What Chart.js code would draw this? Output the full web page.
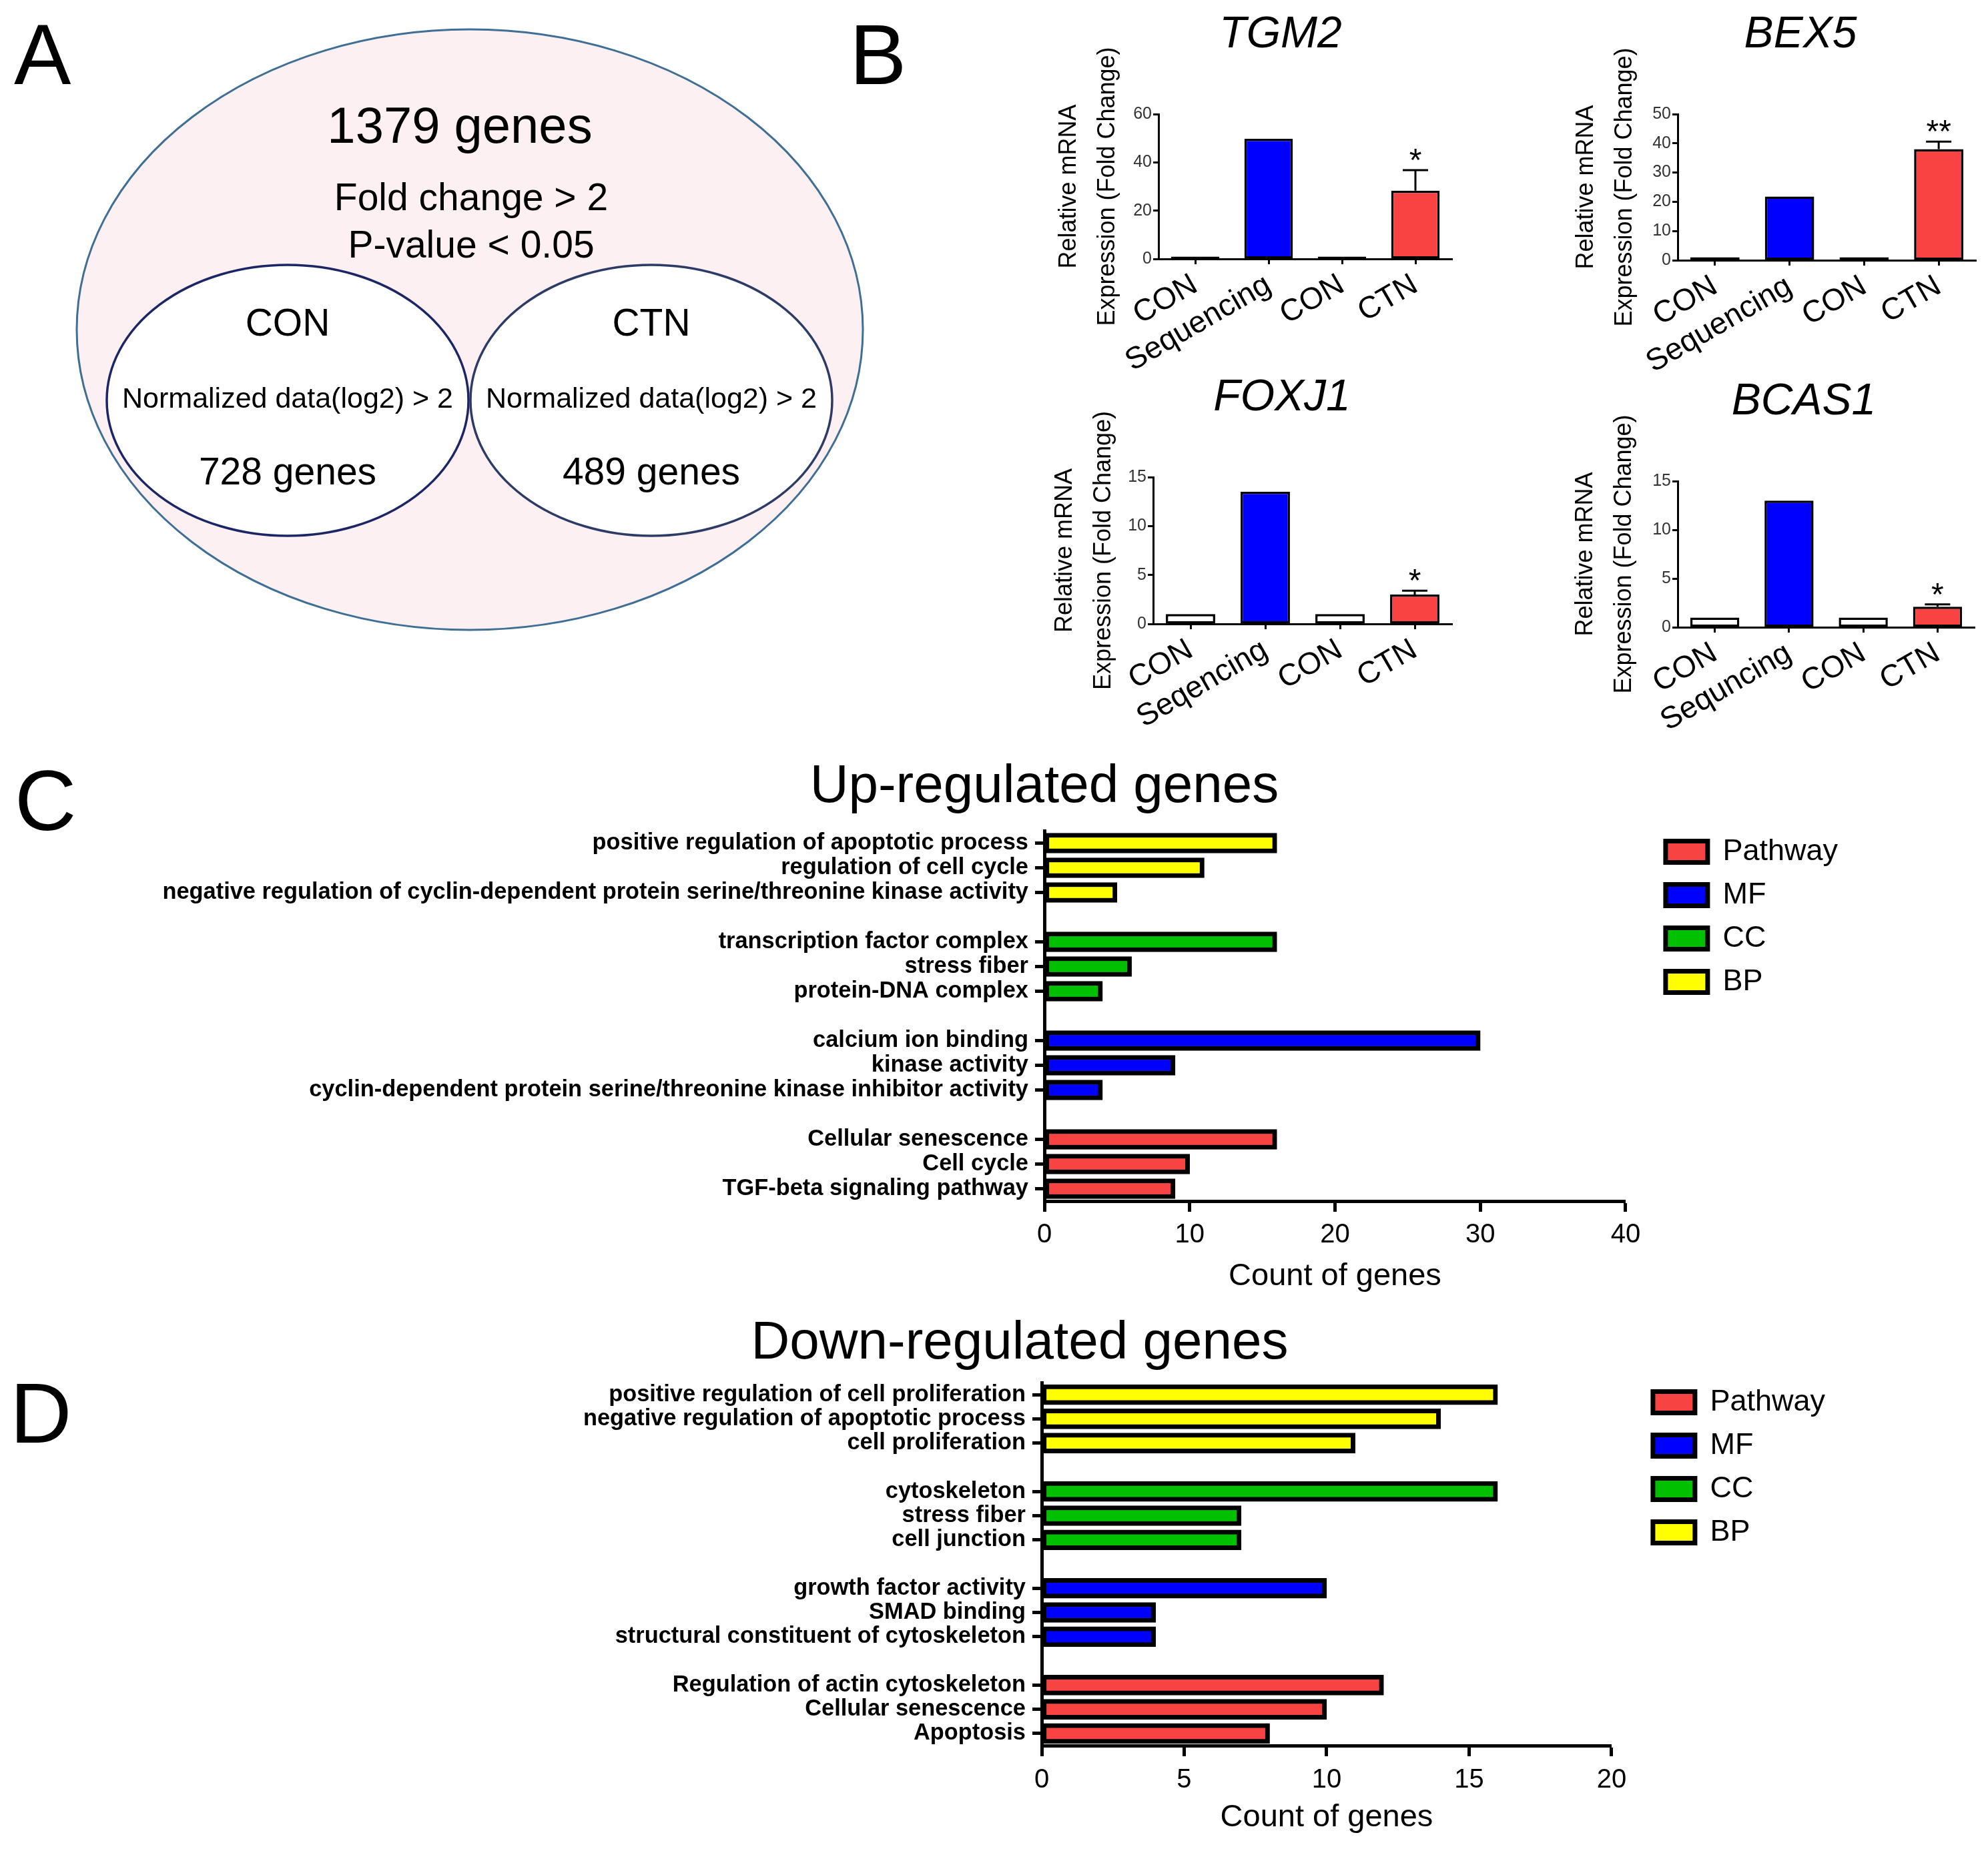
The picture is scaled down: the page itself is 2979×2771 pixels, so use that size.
<!DOCTYPE html>
<html>
<head>
<meta charset="utf-8">
<title>DEG figure</title>
<script src="https://cdn.jsdelivr.net/npm/chart.js@4.4.1/dist/chart.umd.min.js"></script>
<style>
  html, body { margin: 0; padding: 0; background: #fff; }
  body { position: relative; width: 2979px; height: 2771px; overflow: hidden;
         font-family: "Liberation Sans", Arial, sans-serif; color: #000; }
  canvas { position: absolute; }
  .letter { position: absolute; font-size: 128px; line-height: 1; }
  .head { position: absolute; width: 1000px; text-align: center; font-size: 80px; line-height: 1; }
</style>
</head>
<body>

<div class="letter" style="left:21px;top:18px">A</div>
<div class="letter" style="left:1273px;top:18px">B</div>
<div class="letter" style="left:22px;top:1136px">C</div>
<div class="letter" style="left:15px;top:2054px">D</div>

<div class="head" style="left:1065px;top:1135px">Up-regulated genes</div>
<div class="head" style="left:1028px;top:1969px">Down-regulated genes</div>

<canvas id="venn" width="1220" height="930" style="left:100px;top:30px"></canvas>

<canvas id="tgm2" width="718" height="577" style="left:1560px;top:1px"></canvas>
<canvas id="bex5" width="716" height="579" style="left:2340px;top:1px"></canvas>
<canvas id="foxj1" width="722" height="580" style="left:1560px;top:545px"></canvas>
<canvas id="bcas1" width="726" height="579" style="left:2340px;top:551px"></canvas>

<canvas id="upGo" width="2800" height="736" style="left:0px;top:1205px"></canvas>
<canvas id="downGo" width="2800" height="720" style="left:0px;top:2032px"></canvas>

<script>
// ---- panel A: gene filtering
var vennTotal = 1379;
var vennRules = ['Fold change > 2', 'P-value < 0.05'];
var vennSets = ['CON', 'CTN'];
var vennSetRule = 'Normalized data(log2) > 2';
var vennCounts = [728, 489];

// ---- panel B: qPCR validation
var qpcrColors = ['#ffffff', '#0000ff', '#ffffff', '#f94343'];

var tgm2Labels = ['CON', 'Sequencing', 'CON', 'CTN'];
var tgm2Fold = [1, 49.8, 1, 28.3];
var tgm2ErrTop = [null, null, null, 36.8];
var tgm2Stars = ['', '', '', '*'];

var bex5Labels = ['CON', 'Sequencing', 'CON', 'CTN'];
var bex5Fold = [1, 21.8, 1, 38.0];
var bex5ErrTop = [null, null, null, 40.6];
var bex5Stars = ['', '', '', '**'];

var foxj1Labels = ['CON', 'Seqencing', 'CON', 'CTN'];
var foxj1Fold = [1, 13.5, 1, 3.0];
var foxj1ErrTop = [null, null, null, 3.4];
var foxj1Stars = ['', '', '', '*'];

var bcas1Labels = ['CON', 'Sequncing', 'CON', 'CTN'];
var bcas1Fold = [1, 13.0, 1, 2.1];
var bcas1ErrTop = [null, null, null, 2.35];
var bcas1Stars = ['', '', '', '*'];

// ---- panels C and D: enrichment ('' rows are the spacers between groups)
var goTypes = ['Pathway', 'MF', 'CC', 'BP'];
var goColors = ['#f84343', '#0000ff', '#00c000', '#ffff00'];

var upTerms = [
    'positive regulation of apoptotic process',
    'regulation of cell cycle',
    'negative regulation of cyclin-dependent protein serine/threonine kinase activity',
    '',
    'transcription factor complex',
    'stress fiber',
    'protein-DNA complex',
    '',
    'calcium ion binding',
    'kinase activity',
    'cyclin-dependent protein serine/threonine kinase inhibitor activity',
    '',
    'Cellular senescence',
    'Cell cycle',
    'TGF-beta signaling pathway'
];
var upCounts = [16, 11, 5, null, 16, 6, 4, null, 30, 9, 4, null, 16, 10, 9];
var upTypes = ['BP', 'BP', 'BP', null, 'CC', 'CC', 'CC', null, 'MF', 'MF', 'MF', null, 'Pathway', 'Pathway', 'Pathway'];

var downTerms = [
    'positive regulation of cell proliferation',
    'negative regulation of apoptotic process',
    'cell proliferation',
    '',
    'cytoskeleton',
    'stress fiber',
    'cell junction',
    '',
    'growth factor activity',
    'SMAD binding',
    'structural constituent of cytoskeleton',
    '',
    'Regulation of actin cytoskeleton',
    'Cellular senescence',
    'Apoptosis'
];
var downCounts = [16, 14, 11, null, 16, 7, 7, null, 10, 4, 4, null, 12, 10, 8];
var downTypes = ['BP', 'BP', 'BP', null, 'CC', 'CC', 'CC', null, 'MF', 'MF', 'MF', null, 'Pathway', 'Pathway', 'Pathway'];

var FONT = '"Liberation Sans", Arial, sans-serif';
Chart.defaults.font.family = FONT;
Chart.defaults.color = '#000';

/**
 * Draws the nested ellipses of panel A
 */
var vennPlugin = {
    id: 'venn',
    afterDraw: function(chart) {
        var ctx = chart.ctx;
        var centers = [331, 876];
        var strokes = ['#1c2566', '#2d3b66'];
        ctx.save();

        ctx.beginPath();
        ctx.ellipse(604, 464, 589, 450, 0, 0, Math.PI * 2);
        ctx.fillStyle = '#fdf0f2';
        ctx.fill();
        ctx.lineWidth = 3;
        ctx.strokeStyle = '#3f6f94';
        ctx.stroke();

        for (var i = 0; i < vennSets.length; i++) {
            ctx.beginPath();
            ctx.ellipse(centers[i], 570, 271, 203, 0, 0, Math.PI * 2);
            ctx.fillStyle = '#ffffff';
            ctx.fill();
            ctx.lineWidth = 3.5;
            ctx.strokeStyle = strokes[i];
            ctx.stroke();
        }

        ctx.fillStyle = '#000';
        ctx.textAlign = 'center';
        ctx.textBaseline = 'alphabetic';
        ctx.font = '76px ' + FONT;
        ctx.fillText(vennTotal + ' genes', 589, 184);
        ctx.font = '57px ' + FONT;
        ctx.fillText(vennRules[0], 606, 285);
        ctx.fillText(vennRules[1], 606, 356);

        for (var j = 0; j < vennSets.length; j++) {
            ctx.font = '57px ' + FONT;
            ctx.fillText(vennSets[j], centers[j], 473);
            ctx.fillText(vennCounts[j] + ' genes', centers[j], 696);
            ctx.font = '43px ' + FONT;
            ctx.fillText(vennSetRule, centers[j], 581);
        }
        ctx.restore();
    }
};

new Chart(document.getElementById('venn'), {
    type: 'scatter',
    data: { datasets: [] },
    options: {
        responsive: false, animation: false, devicePixelRatio: 1, events: [],
        layout: { padding: 0 },
        plugins: { legend: { display: false }, tooltip: { enabled: false } },
        scales: { x: { display: false }, y: { display: false } }
    },
    plugins: [vennPlugin]
});

/**
 * Error bars (upper half only) and significance stars
 */
var errorBarPlugin = {
    id: 'errorBars',
    afterDatasetsDraw: function(chart) {
        var ds = chart.data.datasets[0];
        var meta = chart.getDatasetMeta(0);
        var yScale = chart.scales.y;
        var ctx = chart.ctx;
        ctx.save();
        ctx.strokeStyle = '#000';
        ctx.fillStyle = '#000';
        ctx.lineWidth = 3;
        ds.errTop.forEach(function(top, i) {
            if (top == null) {
                return;
            }
            var bar = meta.data[i];
            var yTop = yScale.getPixelForValue(top);
            ctx.beginPath();
            ctx.moveTo(bar.x, bar.y);
            ctx.lineTo(bar.x, yTop);
            ctx.moveTo(bar.x - 19, yTop);
            ctx.lineTo(bar.x + 19, yTop);
            ctx.stroke();
            if (ds.stars[i]) {
                ctx.font = '48px ' + FONT;
                ctx.textAlign = 'center';
                ctx.textBaseline = 'alphabetic';
                ctx.fillText(ds.stars[i], bar.x, yTop + 1);
            }
        });
        ctx.restore();
    }
};

function drawQpcr(id, gene, labels, fold, errTop, stars, yMax, yStep, yWidth, titlePad, rightGap) {
    new Chart(document.getElementById(id), {
        type: 'bar',
        data: {
            labels: labels,
            datasets: [{
                data: fold,
                backgroundColor: qpcrColors,
                borderColor: '#000',
                borderWidth: 3.5,
                borderSkipped: false,
                barPercentage: 0.66,
                categoryPercentage: 1,
                xAxisID: 'x',
                yAxisID: 'y',
                errTop: errTop,
                stars: stars
            }]
        },
        options: {
            responsive: false, animation: false, devicePixelRatio: 1, events: [],
            layout: { padding: 0 },
            plugins: {
                legend: { display: false },
                tooltip: { enabled: false },
                title: {
                    display: true,
                    text: gene,
                    color: '#000',
                    font: { size: 66, style: 'italic', weight: 'normal' },
                    padding: { top: 12, bottom: 78.8 }
                }
            },
            scales: {
                x: {
                    grid: { drawOnChartArea: false, offset: false, tickLength: 8, tickWidth: 3, tickColor: '#000' },
                    border: { display: true, color: '#000', width: 3 },
                    ticks: { font: { size: 46 }, color: '#000', minRotation: 30, maxRotation: 30, autoSkip: false, padding: 4 },
                    afterFit: function(s) { s.height = 190; }
                },
                y: {
                    min: 0,
                    max: yMax,
                    grid: { drawOnChartArea: false, tickLength: 8, tickWidth: 3, tickColor: '#000' },
                    border: { display: true, color: '#000', width: 3 },
                    ticks: { stepSize: yStep, font: { size: 25 }, color: '#333', padding: 2 },
                    title: {
                        display: true,
                        text: ['Relative mRNA', 'Expression (Fold Change)'],
                        color: '#000',
                        font: { size: 36, lineHeight: 1.62 },
                        padding: { top: titlePad, bottom: 0 }
                    },
                    afterFit: function(s) { s.width = yWidth; }
                },
                gap: {
                    type: 'linear', axis: 'y', position: 'right', display: true,
                    grid: { display: false }, border: { display: false }, ticks: { display: false },
                    afterFit: function(s) { s.width = rightGap; }
                }
            }
        },
        plugins: [errorBarPlugin]
    });
}

drawQpcr('tgm2', 'TGM2', tgm2Labels, tgm2Fold, tgm2ErrTop, tgm2Stars, 60, 20, 176, 13, 102);
drawQpcr('bex5', 'BEX5', bex5Labels, bex5Fold, bex5ErrTop, bex5Stars, 50, 10, 174, 8, 95);
drawQpcr('foxj1', 'FOXJ1', foxj1Labels, foxj1Fold, foxj1ErrTop, foxj1Stars, 15, 5, 168, 7, 106);
drawQpcr('bcas1', 'BCAS1', bcas1Labels, bcas1Fold, bcas1ErrTop, bcas1Stars, 15, 5, 174, 7, 107);

function drawGo(id, terms, counts, types, xMax, xStep, yWidth, xHeight, tickPad, rightGap, padRight, padTop, topGap) {
    var datasets = goTypes.map(function(type, k) {
        return {
            label: type,
            data: counts.map(function(c, i) { return types[i] === type ? c : null; }),
            backgroundColor: goColors[k],
            borderColor: '#000',
            borderWidth: 7,
            borderSkipped: false,
            barThickness: 30,
            xAxisID: 'x',
            yAxisID: 'y'
        };
    });

    new Chart(document.getElementById(id), {
        type: 'bar',
        data: { labels: terms, datasets: datasets },
        options: {
            indexAxis: 'y',
            responsive: false, animation: false, devicePixelRatio: 1, events: [],
            layout: { padding: { top: padTop, right: padRight, left: 0, bottom: 0 } },
            plugins: {
                tooltip: { enabled: false },
                legend: {
                    display: true,
                    position: 'right',
                    align: 'start',
                    labels: { boxWidth: 63, boxHeight: 32, padding: 20, color: '#000', font: { size: 45 } }
                }
            },
            scales: {
                y: {
                    stacked: true,
                    grid: {
                        drawOnChartArea: false, offset: false, tickLength: 14, tickWidth: 5,
                        tickColor: function(c) { return c.tick && c.tick.label ? '#000' : 'rgba(0,0,0,0)'; }
                    },
                    border: { display: true, color: '#000', width: 5 },
                    ticks: { autoSkip: false, color: '#000', padding: 10, font: { size: 34.4, weight: 'bold' } },
                    afterFit: function(s) { s.width = yWidth; }
                },
                x: {
                    stacked: true,
                    min: 0,
                    max: xMax,
                    grid: { drawOnChartArea: false, tickLength: 16, tickWidth: 5, tickColor: '#000' },
                    border: { display: true, color: '#000', width: 5 },
                    ticks: { stepSize: xStep, color: '#000', padding: tickPad, font: { size: 40 } },
                    title: { display: true, text: 'Count of genes', color: '#000', font: { size: 47 }, padding: { top: 0, bottom: 0 } },
                    afterFit: function(s) { s.height = xHeight; }
                },
                gap: {
                    type: 'linear', axis: 'y', position: 'right', display: true,
                    grid: { display: false }, border: { display: false }, ticks: { display: false },
                    afterFit: function(s) { s.width = rightGap; }
                },
                gapTop: {
                    type: 'linear', axis: 'x', position: 'top', display: true,
                    grid: { display: false }, border: { display: false }, ticks: { display: false },
                    afterFit: function(s) { s.height = topGap; }
                }
            }
        }
    });
}

drawGo('upGo', upTerms, upCounts, upTypes, 40, 10, 1565, 141, 11, 40, 36, 29, 11);
drawGo('downGo', downTerms, downCounts, downTypes, 20, 5, 1561, 136, 12, 42, 55, 27, 13);
</script>
</body>
</html>
